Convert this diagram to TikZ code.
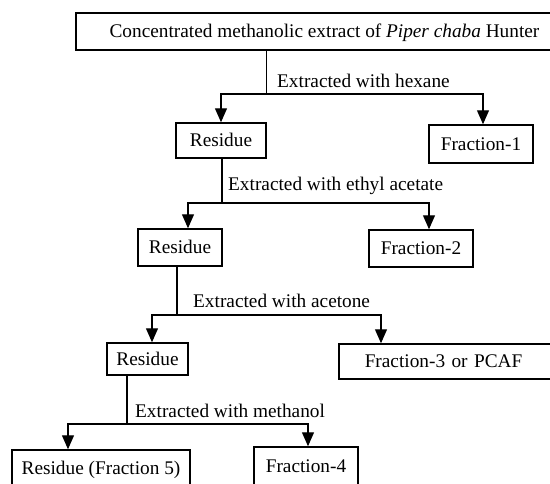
\documentclass[tikz,border=0pt]{standalone}
\usepackage{fontspec}
\setmainfont{Liberation Serif}
\usetikzlibrary{arrows.meta}
\tikzset{
  box/.style={draw,line width=1.5pt,inner sep=0pt,text height=12.5pt,text depth=0pt,font=\fontsize{19.3}{22}\selectfont},
  lbl/.style={anchor=base west,inner sep=0pt,font=\fontsize{19.3}{22}\selectfont},
  line/.style={line width=1.2pt},
  arr/.style={line width=1.2pt,-{Triangle[width=12pt,length=14pt]}}
}

\begin{document}
\begin{tikzpicture}[x=1pt,y=-1pt]
    \useasboundingbox (0,0) rectangle (550,483);

    \node [box, minimum width=497pt, minimum height=37pt] (E) at (324.5,31.5) {Concentrated methanolic extract of \textit{Piper chaba} Hunter};
    \node [box, minimum width=90pt, minimum height=35pt] (R1) at (221,140.5) {Residue};
    \node [box, minimum width=104pt, minimum height=38pt] (F1) at (481,144) {Fraction-1};
    \node [box, minimum width=84pt, minimum height=37pt] (R2) at (180,247.5) {Residue};
    \node [box, minimum width=104pt, minimum height=37pt] (F2) at (421,248.5) {Fraction-2};
    \node [box, minimum width=81pt, minimum height=32pt] (R3) at (147.5,359) {Residue};
    \node [box, anchor=west, text width=200pt, inner xsep=26pt, align=left, minimum height=35pt] (F3) at (338,361.5) {Fraction-3 or PCAF};
    \node [box, minimum width=178pt, minimum height=36pt] (R5) at (101,468) {Residue (Fraction 5)};
    \node [box, minimum width=104pt, minimum height=38pt] (F4) at (306,466) {Fraction-4};

    \coordinate (J1) at (266.7,94);
    \coordinate (J2) at (222,203);
    \coordinate (J3) at (177,315);
    \coordinate (J4) at (127,424);

    \draw [line] (J1 |- E.south) -- (J1);
    \draw [arr] (J1) -| (R1);
    \draw [arr] (J1) -| ([xshift=2pt]F1.north);
    \node [lbl] (L1) at (277,87) {Extracted with hexane};

    \draw [line] (J2 |- R1.south) -- (J2);
    \draw [arr] (J2) -| ([xshift=8pt]R2.north);
    \draw [arr] (J2) -| ([xshift=8pt]F2.north);
    \node [lbl] (L2) at (228,190) {Extracted with ethyl acetate};

    \draw [line] (J3 |- R2.south) -- (J3);
    \draw [arr] (J3) -| ([xshift=4.5pt]R3.north);
    \draw [arr] (J3) -| ([xshift=43pt]F3.north west);
    \node [lbl] (L3) at (193,307) {Extracted with acetone};

    \draw [line] (J4 |- R3.south) -- (J4);
    \draw [arr] (J4) -| ([xshift=-33pt]R5.north);
    \draw [arr] (J4) -| ([xshift=2pt]F4.north);
    \node [lbl] (L4) at (135,417) {Extracted with methanol};
\end{tikzpicture}
\end{document}
